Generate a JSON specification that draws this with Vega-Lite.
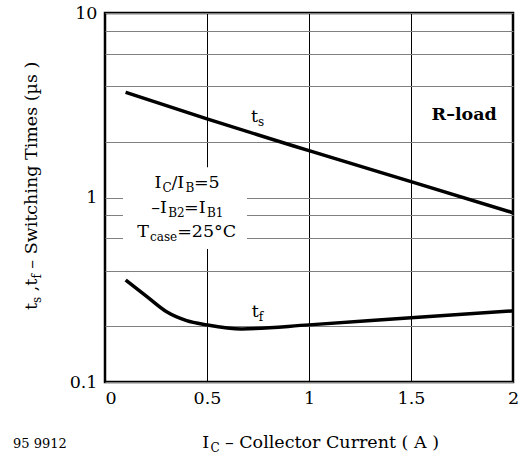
{
  "$schema": "https://vega.github.io/schema/vega-lite/v6.json",
  "width": 408,
  "height": 369,
  "autosize": {"type": "none"},
  "padding": {"left": 105, "top": 13, "right": 6, "bottom": 75},
  "background": "white",
  "config": {
    "view": {"stroke": "black", "strokeWidth": 2.5},
    "font": "DejaVu Serif",
    "text": {"font": "DejaVu Serif", "color": "black"}
  },
  "datasets": {
    "box": [{"current": 0.088, "current2": 0.696, "time": 1.46, "time2": 0.526}],
    "curves": [
      {"series": "ts", "current": 0.101, "time": 3.718},
      {"series": "ts", "current": 0.5, "time": 2.665},
      {"series": "ts", "current": 1.0, "time": 1.794},
      {"series": "ts", "current": 1.5, "time": 1.218},
      {"series": "ts", "current": 2.0, "time": 0.827},
      {"series": "tf", "current": 0.101, "time": 0.357},
      {"series": "tf", "current": 0.204, "time": 0.291},
      {"series": "tf", "current": 0.302, "time": 0.240},
      {"series": "tf", "current": 0.4, "time": 0.215},
      {"series": "tf", "current": 0.5, "time": 0.204},
      {"series": "tf", "current": 0.67, "time": 0.194},
      {"series": "tf", "current": 1.0, "time": 0.204},
      {"series": "tf", "current": 1.5, "time": 0.223},
      {"series": "tf", "current": 2.0, "time": 0.243}
    ],
    "texts": [
      {"kind": "main", "text": "t", "current": 0.716, "time": 2.55},
      {"kind": "sub", "text": "s", "current": 0.750, "time": 2.55},
      {"kind": "main", "text": "t", "current": 0.719, "time": 0.226},
      {"kind": "sub", "text": "f", "current": 0.7534, "time": 0.226},
      {"kind": "main", "text": "I", "current": 0.2422, "time": 1.122},
      {"kind": "sub", "text": "C", "current": 0.2824, "time": 1.122},
      {"kind": "main", "text": "/I", "current": 0.3255, "time": 1.122},
      {"kind": "sub", "text": "B", "current": 0.3946, "time": 1.122},
      {"kind": "main", "text": "=5", "current": 0.4358, "time": 1.122},
      {"kind": "main", "text": "–I", "current": 0.2267, "time": 0.824},
      {"kind": "sub", "text": "B2", "current": 0.3098, "time": 0.824},
      {"kind": "main", "text": "=I", "current": 0.3875, "time": 0.824},
      {"kind": "sub", "text": "B1", "current": 0.4995, "time": 0.824},
      {"kind": "main", "text": "T", "current": 0.1586, "time": 0.6106},
      {"kind": "sub", "text": "case", "current": 0.2206, "time": 0.6106},
      {"kind": "main", "text": "=25°C", "current": 0.3537, "time": 0.6106},
      {"kind": "main", "text": "I", "current": 0.477, "time": 0.0437},
      {"kind": "sub", "text": "C", "current": 0.5172, "time": 0.0437},
      {"kind": "main", "text": "– Collector Current ( A )", "current": 0.5877, "time": 0.0437},
      {"kind": "note", "text": "95 9912", "current": -0.451, "time": 0.0437},
      {"kind": "bold", "text": "R–load", "current": 1.601, "time": 2.63},
      {"kind": "ymain", "text": "t", "current": -0.3333, "time": 0.2456},
      {"kind": "ysub", "text": "s", "current": -0.3333, "time": 0.2682},
      {"kind": "ymain", "text": ",t", "current": -0.3333, "time": 0.3105},
      {"kind": "ysub", "text": "f", "current": -0.3333, "time": 0.3634},
      {"kind": "ymain", "text": "– Switching Times (µs )", "current": -0.3333, "time": 0.4116}
    ]
  },
  "encoding": {
    "x": {
      "field": "current",
      "type": "quantitative",
      "scale": {"domain": [0, 2], "nice": false, "zero": false},
      "axis": {
        "title": null,
        "values": [0, 0.5, 1, 1.5, 2],
        "format": "~g",
        "grid": true,
        "gridColor": "black",
        "gridWidth": 1,
        "ticks": false,
        "tickSize": 0,
        "domain": false,
        "labelFont": "DejaVu Serif",
        "labelFontSize": 17.5,
        "labelColor": "black",
        "labelPadding": 7,
        "labelOverlap": false,
        "labelAlign": {"condition": {"test": "datum.value == 0", "value": "left"}, "value": "center"}
      }
    },
    "y": {
      "field": "time",
      "type": "quantitative",
      "scale": {"type": "log", "domain": [0.1, 10], "nice": false},
      "axis": {
        "title": null,
        "values": [0.1, 0.2, 0.4, 0.6, 0.8, 1, 2, 4, 6, 8, 10],
        "format": "~g",
        "labelExpr": "(datum.value == 0.1 || datum.value == 1 || datum.value == 10) ? datum.label : ''",
        "grid": true,
        "gridColor": "#808080",
        "gridWidth": 1.2,
        "ticks": false,
        "tickSize": 0,
        "domain": false,
        "labelFont": "DejaVu Serif",
        "labelFontSize": 17.5,
        "labelColor": "black",
        "labelPadding": 8,
        "labelOverlap": false,
        "labelBaseline": "middle"
      }
    }
  },
  "layer": [
    {
      "data": {"name": "box"},
      "mark": {"type": "rect", "fill": "white", "stroke": null},
      "encoding": {"x2": {"field": "current2"}, "y2": {"field": "time2"}}
    },
    {
      "data": {"name": "curves"},
      "mark": {"type": "line", "color": "black", "strokeWidth": 3.5, "interpolate": "monotone", "clip": true},
      "encoding": {"detail": {"field": "series"}}
    },
    {
      "data": {"name": "texts"},
      "transform": [{"filter": "datum.kind == 'main'"}],
      "mark": {"type": "text", "fontSize": 17.5, "align": "left", "baseline": "alphabetic"},
      "encoding": {"text": {"field": "text"}}
    },
    {
      "data": {"name": "texts"},
      "transform": [{"filter": "datum.kind == 'sub'"}],
      "mark": {"type": "text", "fontSize": 12, "align": "left", "baseline": "alphabetic", "dy": 4},
      "encoding": {"text": {"field": "text"}}
    },
    {
      "data": {"name": "texts"},
      "transform": [{"filter": "datum.kind == 'bold'"}],
      "mark": {"type": "text", "fontSize": 17.5, "fontWeight": "bold", "align": "left", "baseline": "alphabetic"},
      "encoding": {"text": {"field": "text"}}
    },
    {
      "data": {"name": "texts"},
      "transform": [{"filter": "datum.kind == 'note'"}],
      "mark": {"type": "text", "fontSize": 13, "align": "left", "baseline": "alphabetic"},
      "encoding": {"text": {"field": "text"}}
    },
    {
      "data": {"name": "texts"},
      "transform": [{"filter": "datum.kind == 'ymain'"}],
      "mark": {"type": "text", "fontSize": 17.5, "align": "left", "baseline": "alphabetic", "angle": 270},
      "encoding": {"text": {"field": "text"}}
    },
    {
      "data": {"name": "texts"},
      "transform": [{"filter": "datum.kind == 'ysub'"}],
      "mark": {"type": "text", "fontSize": 12, "align": "left", "baseline": "alphabetic", "angle": 270, "dy": 4},
      "encoding": {"text": {"field": "text"}}
    }
  ]
}
